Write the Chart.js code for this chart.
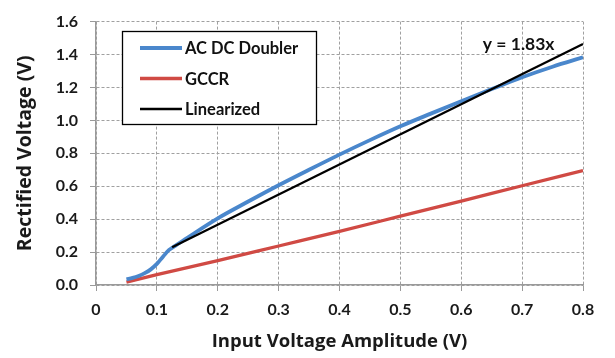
<!DOCTYPE html>
<html><head><meta charset="utf-8">
<script src="https://cdn.jsdelivr.net/npm/chart.js@4.4.1/dist/chart.umd.min.js"></script>
<style>html,body{margin:0;padding:0;background:#fff}#wrap{width:615px;height:358px}</style>
</head><body><div id="wrap"><canvas id="c" width="615" height="358"></canvas></div>
<script>
const seriesNames = ["AC DC Doubler", "GCCR", "Linearized"];
const doublerX = [0.05,0.06,0.07,0.08,0.09,0.10,0.11,0.12,0.13,0.15,0.20,0.25,0.30,0.35,0.40,0.45,0.50,0.55,0.60,0.65,0.70,0.75,0.80];
const doublerY = [0.035,0.043,0.055,0.072,0.095,0.128,0.172,0.213,0.238,0.287,0.405,0.507,0.606,0.700,0.792,0.880,0.964,1.041,1.116,1.190,1.262,1.326,1.383];
const gccrX = [0.05,0.10,0.20,0.30,0.40,0.50,0.60,0.70,0.80];
const gccrY = [0.018,0.063,0.148,0.237,0.326,0.418,0.510,0.603,0.695];
const linX = [0.125,0.80];
const linY = [0.229,1.464];
const xTicks = [0,0.1,0.2,0.3,0.4,0.5,0.6,0.7,0.8];
const yTicks = [0,0.2,0.4,0.6,0.8,1.0,1.2,1.4,1.6];
const fitLabel = "y = 1.83x";
const xTitle = "Input Voltage Amplitude (V)";
const yTitle = "Rectified Voltage (V)";

const FONT = "Lato, 'Open Sans', sans-serif";
const TFONT = "'Open Sans', Lato, sans-serif";
const colors = ["#4a87cc", "#d04a44", "#000000"];
const widths = [3.8, 3.3, 2.3];
const pts = (xs, ys) => xs.map((x, i) => ({x, y: ys[i]}));

const legendPlugin = {
  id: 'boxLegend',
  afterDatasetsDraw(chart) {
    const ctx = chart.ctx;
    ctx.save();
    ctx.fillStyle = '#fff';
    ctx.fillRect(122, 31, 195, 94);
    ctx.strokeStyle = '#000';
    ctx.lineWidth = 1.3;
    ctx.strokeRect(122.5, 31.5, 194, 93);
    const rows = [48, 78.5, 109];
    ctx.font = "bold 16.5px " + FONT;
    ctx.textBaseline = 'middle';
    seriesNames.forEach((n, i) => {
      ctx.strokeStyle = colors[i];
      ctx.lineWidth = widths[i];
      ctx.beginPath();
      ctx.moveTo(140, rows[i]);
      ctx.lineTo(182, rows[i]);
      ctx.stroke();
      ctx.fillStyle = '#111';
      ctx.fillText(n, 185, rows[i] + 1);
    });
    const xs = chart.scales.x, ys = chart.scales.y;
    ctx.font = "bold 17.5px " + FONT;
    ctx.textAlign = 'left';
    ctx.textBaseline = 'alphabetic';
    ctx.fillStyle = '#111';
    ctx.fillText(fitLabel, xs.getPixelForValue(0.6355), ys.getPixelForValue(1.425));
    ctx.restore();
  }
};

new Chart(document.getElementById('c'), {
  type: 'line',
  data: {
    datasets: [
      {label: seriesNames[0], data: pts(doublerX, doublerY), borderColor: colors[0], borderWidth: widths[0], pointRadius: 0, cubicInterpolationMode: 'monotone', order: 2},
      {label: seriesNames[1], data: pts(gccrX, gccrY), borderColor: colors[1], borderWidth: widths[1], pointRadius: 0, cubicInterpolationMode: 'monotone', order: 3},
      {label: seriesNames[2], data: pts(linX, linY), borderColor: colors[2], borderWidth: widths[2], pointRadius: 0, order: 1}
    ]
  },
  options: {
    responsive: false,
    animation: false,
    events: [],
    layout: {padding: {top: 15, right: 32, left: 0, bottom: 0}},
    plugins: {legend: {display: false}, tooltip: {enabled: false}},
    scales: {
      x: {
        type: 'linear', min: 0, max: 0.8,
        afterBuildTicks: s => { s.ticks = xTicks.map(v => ({value: v})); },
        afterFit: s => { s.height = 73; },
        border: {display: true, color: '#9a9a9a', width: 1.5, dash: [3, 2]},
        grid: {color: '#a0a0a0', lineWidth: 1, tickLength: 6, tickColor: '#9a9a9a', drawTicks: true, tickBorderDash: []},
        ticks: {padding: 9, color: '#1a1a1a', font: {family: FONT, size: 16, weight: 'bold'}, callback: v => v === 0 ? '0' : v.toFixed(1)},
        title: {display: true, text: xTitle, color: '#1a1a1a', font: {family: TFONT, size: 18.5, weight: 'bold'}, padding: {top: 4, bottom: 5}}
      },
      y: {
        type: 'linear', min: 0, max: 1.6,
        afterBuildTicks: s => { s.ticks = yTicks.map(v => ({value: v})); },
        afterFit: s => { s.width = 96; },
        border: {display: true, color: '#9a9a9a', width: 1.5, dash: [3, 2]},
        grid: {color: '#a0a0a0', lineWidth: 1, tickLength: 6, tickColor: '#9a9a9a', tickBorderDash: []},
        ticks: {padding: 12, color: '#1a1a1a', font: {family: FONT, size: 16, weight: 'bold'}, callback: v => v.toFixed(1)},
        title: {display: true, text: yTitle, color: '#1a1a1a', font: {family: TFONT, size: 19.5, weight: 'bold'}, padding: {top: 14, bottom: 0}}
      }
    }
  },
  plugins: [legendPlugin]
});
</script>
</body></html>
